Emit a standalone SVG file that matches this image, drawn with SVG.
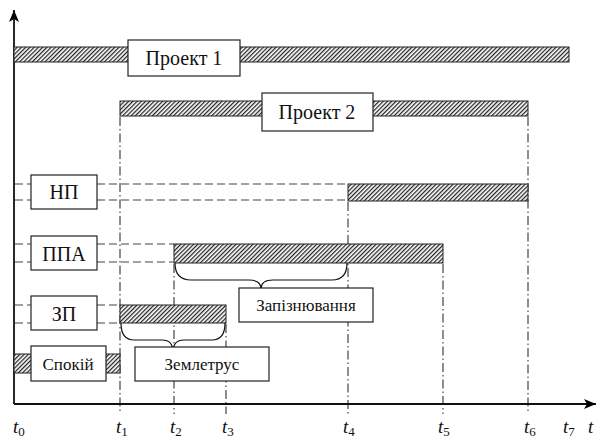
<svg xmlns="http://www.w3.org/2000/svg" width="597" height="440" viewBox="0 0 597 440">
<defs>
<pattern id="hatch" width="3" height="3" patternUnits="userSpaceOnUse" patternTransform="rotate(45)">
<rect width="3" height="3" fill="#fff"/>
<line x1="0.6" y1="0" x2="0.6" y2="3" stroke="#222" stroke-width="1.3"/>
</pattern>
<marker id="ah" viewBox="0 0 12 10" refX="12" refY="5" markerWidth="12" markerHeight="10" markerUnits="userSpaceOnUse" orient="auto">
<path d="M0,0 L12,5 L0,10 L3,5 Z" fill="#000"/>
</marker>
</defs>
<style>
.bar{fill:url(#hatch);stroke:#222;stroke-width:1}
.box{fill:#fff;stroke:#222;stroke-width:1.2}
.lbl{font-size:20px;fill:#111;text-anchor:middle}
.sm{font-size:17px}
.dash{stroke:#444;stroke-width:1.2;stroke-dasharray:8 4;fill:none}
.dd{stroke:#444;stroke-width:1.2;stroke-dasharray:9 3 1.5 3;fill:none}
.axis{stroke:#111;stroke-width:1.8;fill:none}
.brace{stroke:#111;stroke-width:1.2;fill:none}
.t{font-style:italic;font-size:19px;fill:#111}
.sub{font-style:normal;font-size:13px}
</style>
<g id="connectors">
<line class="dd" x1="120" y1="117" x2="120" y2="414"/>
<line class="dd" x1="174" y1="264" x2="174" y2="414"/>
<line class="dd" x1="226" y1="324" x2="226" y2="414"/>
<line class="dd" x1="348" y1="202" x2="348" y2="414"/>
<line class="dd" x1="443" y1="264" x2="443" y2="414"/>
<line class="dd" x1="528" y1="117" x2="528" y2="414"/>
<line class="dash" x1="15" y1="184" x2="31" y2="184"/>
<line class="dash" x1="15" y1="200" x2="31" y2="200"/>
<line class="dash" x1="97" y1="184" x2="348" y2="184"/>
<line class="dash" x1="97" y1="200" x2="348" y2="200"/>
<line class="dash" x1="15" y1="244" x2="31" y2="244"/>
<line class="dash" x1="15" y1="262" x2="31" y2="262"/>
<line class="dash" x1="97" y1="244" x2="174" y2="244"/>
<line class="dash" x1="97" y1="262" x2="174" y2="262"/>
<line class="dash" x1="15" y1="305" x2="31" y2="305"/>
<line class="dash" x1="15" y1="323" x2="31" y2="323"/>
<line class="dash" x1="97" y1="305" x2="120" y2="305"/>
<line class="dash" x1="97" y1="323" x2="120" y2="323"/>
<path class="brace" d="M175,263 Q175,280 191,280 L249,280 Q261,280 261,289 Q261,280 273,280 L332,280 Q347,280 347,263"/>
<path class="brace" d="M121,323 Q121,340 134,340 L162,340 Q173,340 173,352 Q173,340 184,340 L212,340 Q225,340 225,323"/>
<line class="axis" x1="14" y1="404" x2="14" y2="10" marker-end="url(#ah)"/>
<line class="axis" x1="14" y1="404" x2="596" y2="404" marker-end="url(#ah)"/>
</g>
<g font-family="'Liberation Serif', 'DejaVu Serif', serif">
<g id="project1">
<rect class="bar" x="14" y="47" width="555" height="15"/>
<rect class="box" x="128" y="40" width="112" height="36"/>
<text class="lbl" x="184" y="65">Проект 1</text>
</g>
<g id="project2">
<rect class="bar" x="120" y="101" width="408" height="15"/>
<rect class="box" x="262" y="93" width="111" height="38"/>
<text class="lbl" x="317" y="119">Проект 2</text>
</g>
<g id="np">
<rect class="bar" x="348" y="184" width="180" height="17"/>
<rect class="box" x="31" y="175" width="66" height="34"/>
<text class="lbl" x="64" y="199">НП</text>
</g>
<g id="ppa">
<rect class="bar" x="174" y="244" width="269" height="19"/>
<rect class="box" x="31" y="236" width="66" height="34"/>
<text class="lbl" x="64" y="261">ППА</text>
</g>
<g id="zp">
<rect class="bar" x="120" y="305" width="106" height="18"/>
<rect class="box" x="31" y="296" width="66" height="34"/>
<text class="lbl" x="64" y="321">ЗП</text>
</g>
<g id="spokiy">
<rect class="bar" x="14" y="354" width="106" height="19"/>
<rect class="box" x="31" y="346" width="75" height="35"/>
<text class="lbl sm" x="68" y="370">Спокій</text>
</g>
<g id="zemletrus">
<rect class="box" x="135" y="347" width="134" height="34"/>
<text class="lbl sm" x="202" y="370">Землетрус</text>
</g>
<g id="zapiznyuvannya">
<rect class="box" x="239" y="288" width="134" height="34"/>
<text class="lbl sm" x="306" y="311">Запізнювання</text>
</g>
<g id="time-labels">
<text class="t" x="13" y="433">t<tspan class="sub" dy="3">0</tspan></text>
<text class="t" x="116" y="433">t<tspan class="sub" dy="3">1</tspan></text>
<text class="t" x="170" y="433">t<tspan class="sub" dy="3">2</tspan></text>
<text class="t" x="222" y="433">t<tspan class="sub" dy="3">3</tspan></text>
<text class="t" x="343" y="433">t<tspan class="sub" dy="3">4</tspan></text>
<text class="t" x="438" y="433">t<tspan class="sub" dy="3">5</tspan></text>
<text class="t" x="524" y="433">t<tspan class="sub" dy="3">6</tspan></text>
<text class="t" x="563" y="433">t<tspan class="sub" dy="3">7</tspan></text>
<text class="t" x="588" y="433">t</text>
</g>
</g>
</svg>
